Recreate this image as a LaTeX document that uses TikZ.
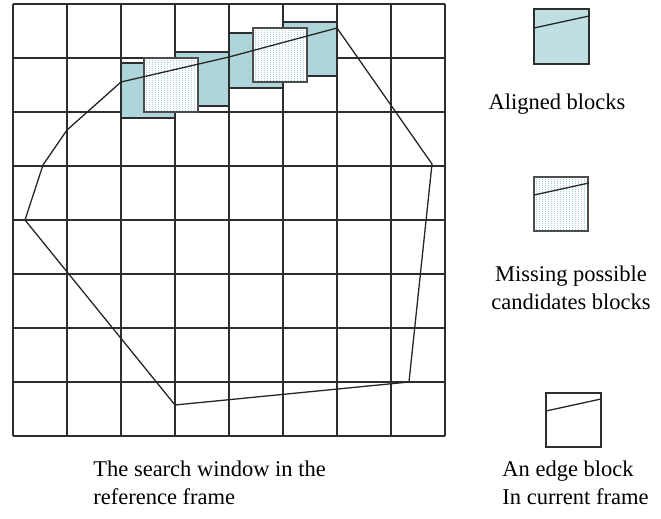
\documentclass[tikz,border=0pt]{standalone}
\usepackage{fontspec}
\setmainfont{Liberation Serif}
\definecolor{tealmain}{RGB}{174,213,217}
\definecolor{teallegend}{RGB}{192,223,227}
\definecolor{dotblue}{RGB}{160,208,224}
\definecolor{gridgray}{RGB}{45,45,45}
\begin{document}
\begin{tikzpicture}[x=0.5pt,y=-0.5pt,
  gridline/.style={draw=gridgray,line width=0.8pt},
  edgeline/.style={draw=black!85,line width=0.65pt,line join=miter},
  tealblock/.style={fill=tealmain,draw=gridgray,line width=0.75pt},
  blockborder/.style={draw=black!70,line width=0.75pt},
  dotline/.style={draw=dotblue,line width=0.45pt,dash pattern=on 0.5pt off 0.5pt},
  labeltext/.style={font=\fontsize{11.25}{14}\selectfont,inner sep=0pt},
  dotsq/.pic={
    \fill[white] (0,0) rectangle (54,54);
    \begin{scope}
      \clip (0,0) rectangle (54,54);
      \foreach \k in {2,5,...,53} \draw[dotline] (\k,0) -- (\k,54);
    \end{scope}
    \draw[blockborder] (0,0) rectangle (54,54);
  }
]
\useasboundingbox (0,0) rectangle (661,519);
% search window grid
\foreach \i in {0,...,8} {
  \draw[gridline] (13+54*\i,4) -- (13+54*\i,436);
  \draw[gridline] (13,4+54*\i) -- (445,4+54*\i);
}
% aligned blocks
\draw[tealblock] (121,63) rectangle (175,118);
\draw[tealblock] (175,52) rectangle (229,106);
\draw[tealblock] (229,33) rectangle (283,88);
\draw[tealblock] (283,22) rectangle (337,76);
% missing candidate blocks
\pic at (144,58) {dotsq};
\pic at (253,28) {dotsq};
% edge polygon
\draw[edgeline] (121,82) -- (229,57) -- (337,28) -- (432,164) -- (409,382)
  -- (175,405) -- (25,220) -- (43,165) -- (67,130) -- cycle;
% legend: aligned block
\draw[fill=teallegend,draw=gridgray,line width=0.75pt] (534,9) rectangle (589,64);
\draw[edgeline] (534,28) -- (589,16);
\node[labeltext,anchor=base] (aligned) at (557,110) {Aligned blocks};
% legend: missing candidates
\pic at (534,177) {dotsq};
\draw[edgeline] (534,195) -- (589,183);
\node[labeltext,anchor=base] (missing) at (571,282)
  {\begin{tabular}[t]{@{}c@{}}Missing possible\\candidates blocks\end{tabular}};
% legend: edge block
\draw[draw=gridgray,line width=0.75pt,fill=white] (546,393) rectangle (601,447);
\draw[edgeline] (546,411) -- (601,399);
\node[labeltext,anchor=base west] (edge) at (502,477)
  {\begin{tabular}[t]{@{}l@{}}An edge block\\In current frame\end{tabular}};
% caption of search window
\node[labeltext,anchor=base west] (caption) at (93,477)
  {\begin{tabular}[t]{@{}l@{}}The search window in the\\reference frame\end{tabular}};
\end{tikzpicture}
\end{document}
